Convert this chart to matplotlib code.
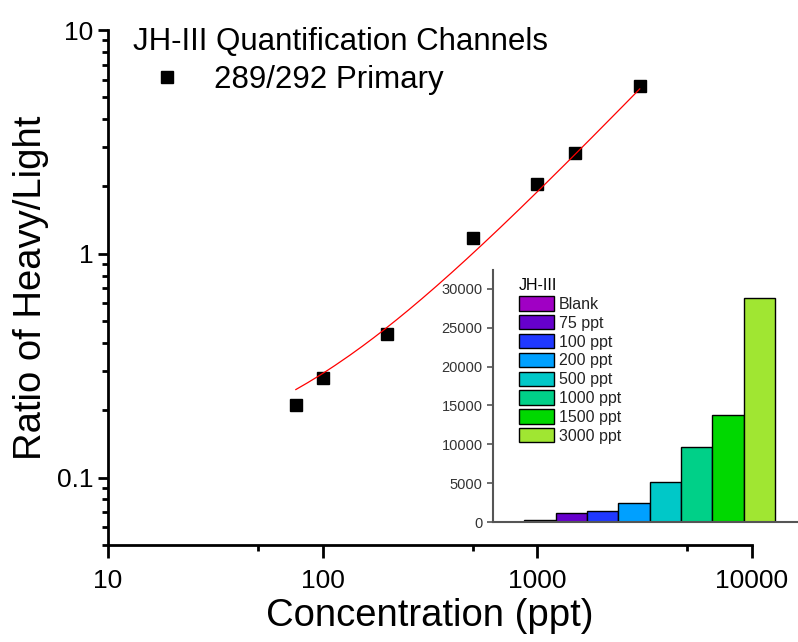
# JH-III 定量通道：比值-浓度曲线 + 各浓度峰面积小图
import numpy as np
import matplotlib
matplotlib.use('Agg')
import matplotlib.pyplot as plt
from matplotlib.ticker import FixedLocator, NullFormatter, LogLocator

plt.rcParams['font.family'] = ['Liberation Sans', 'DejaVu Sans']

# 主图数据
conc = [75, 100, 200, 500, 1000, 1500, 3000]
ratio = [0.212, 0.279, 0.44, 1.18, 2.05, 2.82, 5.62]

# 拟合线（图上读出的线性拟合：y = slope * x + intercept）
fit_range = [75, 3000]
fit_slope = 0.00178
fit_intercept = 0.114

# 小图数据
levels = ['Blank', '75 ppt', '100 ppt', '200 ppt', '500 ppt',
          '1000 ppt', '1500 ppt', '3000 ppt']
areas = [300, 1150, 1400, 2450, 5200, 9700, 13800, 28800]
bar_colors = ['#A000C4', '#6600CC', '#2038FF', '#00A0FF', '#00C8C8',
              '#00D088', '#00D800', '#A0E632']


def plot_main(ax):
    ax.plot(conc, ratio, 's', color='black', markersize=9,
            label='289/292 Primary')
    xf = np.linspace(fit_range[0], fit_range[1], 300)
    ax.plot(xf, fit_slope * xf + fit_intercept, color='red', linewidth=0.9)

    ax.set_xscale('log')
    ax.set_yscale('log')
    ax.set_xlim(10, 10000)
    ax.set_ylim(0.05, 10)
    ax.set_xticks([10, 100, 1000, 10000])
    ax.set_xticklabels(['10', '100', '1000', '10000'])
    ax.xaxis.set_minor_locator(FixedLocator([50, 500, 5000]))
    ax.xaxis.set_minor_formatter(NullFormatter())
    ax.set_yticks([0.1, 1, 10])
    ax.set_yticklabels(['0.1', '1', '10'])
    ax.yaxis.set_minor_locator(LogLocator(base=10, subs=np.arange(2, 10)))
    ax.yaxis.set_minor_formatter(NullFormatter())

    for s in ['top', 'right']:
        ax.spines[s].set_visible(False)
    for s in ['left', 'bottom']:
        ax.spines[s].set_linewidth(2)
    ax.tick_params(which='major', direction='out', length=7, width=2,
                   labelsize=19)
    ax.tick_params(which='minor', direction='out', length=4, width=2)
    ax.tick_params(axis='x', which='major', length=9, pad=8)

    ax.set_xlabel('Concentration (ppt)', fontsize=27.5, labelpad=4)
    ax.set_ylabel('Ratio of Heavy/Light', fontsize=27.5, labelpad=6)

    ax.legend(title='JH-III Quantification Channels', loc='upper left',
              bbox_to_anchor=(111 / 798, 1 - 5 / 642),
              bbox_transform=fig.transFigure, frameon=False,
              fontsize=22.5, title_fontsize=22.5, alignment='left',
              handlelength=2.2, handletextpad=0.4, borderpad=0.2,
              labelspacing=0.25)


def plot_inset(ax):
    x = np.arange(len(levels))
    bars = ax.bar(x, areas, width=1.0, color=bar_colors,
                  edgecolor='black', linewidth=1)
    ax.set_xlim(-1.5, 8.24)
    ax.set_ylim(0, 32400)
    ax.set_yticks(range(0, 30001, 5000))
    ax.set_xticks([])
    for s in ['top', 'right']:
        ax.spines[s].set_visible(False)
    for s in ['left', 'bottom']:
        ax.spines[s].set_linewidth(1.5)
        ax.spines[s].set_color('#555555')
    ax.tick_params(axis='y', direction='out', length=4, width=1.2,
                   color='#555555', labelcolor='#333333', labelsize=10.5)
    ax.patch.set_alpha(0)

    ax.legend(bars, levels, title='JH-III', loc='upper left',
              bbox_to_anchor=(508 / 798, 1 - 267 / 642),
              bbox_transform=fig.transFigure, frameon=False,
              fontsize=11.5, title_fontsize=11.5, alignment='left',
              handlelength=2.2, handleheight=1.0, handletextpad=0.3,
              labelspacing=0.2, borderpad=0.2, labelcolor='#222222')


fig = plt.figure(figsize=(7.98, 6.42), dpi=100)
ax_main = fig.add_axes([108 / 798, 1 - 545 / 642, 644 / 798, 515 / 642])
plot_main(ax_main)
ax_in = fig.add_axes([493 / 798, 1 - 522.3 / 642, 305 / 798, 252.3 / 642])
plot_inset(ax_in)

fig.savefig('out.png', dpi=100)
